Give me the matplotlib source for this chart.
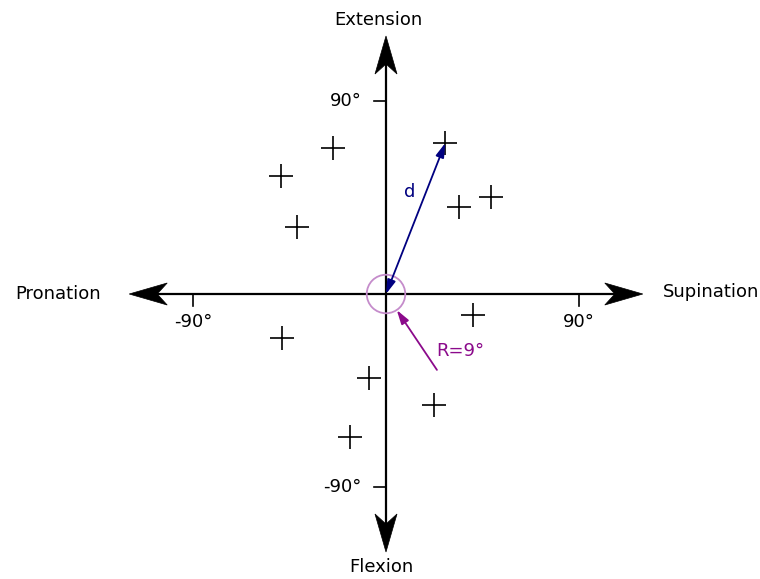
import matplotlib
matplotlib.use("Agg")
import matplotlib.pyplot as plt
import matplotlib.transforms as mtransforms
from matplotlib.patches import Polygon, Ellipse
import numpy as np

# Measured wrist positions (degrees): supination(+)/pronation(-), extension(+)/flexion(-)
sup_pro = [27.7, -24.8, -49.2, 34.2, 49.2, -41.7, 40.8, -48.8, -8.0, 22.5, -16.9]
ext_flex = [70.2, 67.9, 54.9, 40.5, 45.1, 31.2, -9.8, -20.5, -39.1, -51.6, -66.5]
tick_values = [-90, 90]
tick_labels = ["-90°", "90°"]
radius_deg = 9
axis_extent = 120

fig = plt.figure(figsize=(7.6, 5.79), dpi=100)
ax = fig.add_axes([0, 0, 1, 1])
ax.set_xlim(-386 / 2.14, (760 - 386) / 2.14)
ax.set_ylim(-285 / 2.15, 294 / 2.15)
ax.axis("off")

black = "black"
navy = "#000080"
purple = "#8b0a8b"
light_purple = "#c58ccb"
fs = 13


def stealth_head(x, y, angle):
    # arrowhead drawn in pixel units, tip at data point (x, y), pointing along angle
    shape = np.array([[0, 0], [-38, 11], [-28, 0], [-38, -11]], dtype=float)
    tr = (mtransforms.Affine2D().rotate_deg(angle)
          + mtransforms.ScaledTranslation(x, y, ax.transData))
    ax.add_patch(Polygon(shape, closed=True, facecolor=black, edgecolor=black,
                         lw=0.5, transform=tr, zorder=3))


# main axes
notch = 28 / 2.14
ax.plot([-axis_extent + notch, axis_extent - notch], [0, 0], color=black, lw=1.6, zorder=2)
ax.plot([0, 0], [-axis_extent + notch, axis_extent - notch], color=black, lw=1.6, zorder=2)
stealth_head(axis_extent, 0, 0)
stealth_head(-axis_extent, 0, 180)
stealth_head(0, axis_extent, 90)
stealth_head(0, -axis_extent, -90)

# ticks
tick_len_x = 12 / 2.15
tick_len_y = 12 / 2.14
for v, lab in zip(tick_values, tick_labels):
    ax.plot([v, v], [0, -tick_len_x], color=black, lw=1.2)
    ax.text(v, -13, lab, ha="center", va="center", fontsize=fs)
    ax.plot([0, -tick_len_y], [v, v], color=black, lw=1.2)
    ax.text(-11.3, v, lab, ha="right", va="center", fontsize=fs)

# axis titles
ax.text(-3.7, 127.4, "Extension", ha="center", va="center", fontsize=fs)
ax.text(-2.3, -127.0, "Flexion", ha="center", va="center", fontsize=fs)
ax.text(-153.3, 0, "Pronation", ha="center", va="center", fontsize=fs)
ax.text(151.9, 0.9, "Supination", ha="center", va="center", fontsize=fs)

# data points
ax.plot(sup_pro, ext_flex, linestyle="none", marker="+", markersize=17,
        markeredgewidth=1.2, color=black, zorder=4)

# tolerance circle
ax.add_patch(Ellipse((0, 0), 2 * radius_deg, 2 * radius_deg * 2.14 / 2.15,
                     fill=False, edgecolor=light_purple, lw=1.3, zorder=3))

# distance arrow to first point
ax.annotate("", xy=(sup_pro[0], ext_flex[0]), xytext=(0, 0),
            arrowprops=dict(arrowstyle="<|-|>,head_length=0.6,head_width=0.18",
                            color=navy, lw=1.3,
                            mutation_scale=14, shrinkA=0, shrinkB=0), zorder=5)
ax.text(11.2, 47.4, "d", color=navy, ha="center", va="center", fontsize=fs)

# radius annotation
start = np.array([23.8, -35.3])
end = start / np.linalg.norm(start) * radius_deg
ax.annotate("", xy=tuple(end), xytext=tuple(start),
            arrowprops=dict(arrowstyle="-|>,head_length=0.6,head_width=0.18",
                            color=purple, lw=1.3,
                            mutation_scale=14, shrinkA=0, shrinkB=0), zorder=5)
ax.text(34.6, -26.5, f"R={radius_deg}°", color=purple, ha="center", va="center", fontsize=fs)

fig.savefig("out.png", dpi=100)
